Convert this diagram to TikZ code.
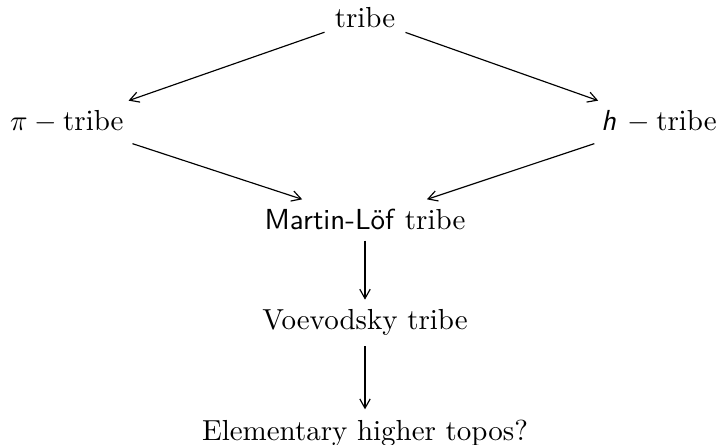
\documentclass[tikz,border=0pt]{standalone}
\usetikzlibrary{arrows.meta}
\begin{document}
\begin{tikzpicture}[x=0.01213cm,y=-0.01213cm,>={Straight Barb[length=3.2pt,width=3.6pt]}]
            \useasboundingbox (0,0) rectangle (720,445);

            \node[anchor=base] (T) at (365, 28) { tribe };
            \node[anchor=base west] (PI) at (0, 131) { $\pi - \mathrm{tribe}$ };
            \node[anchor=base east] (H) at (727, 131) { $\textsf{\textit{h}}\, - \mathrm{tribe}$ };
            \node[anchor=base] (ML) at (365, 230) { \textsf{Martin-Löf} tribe };
            \node[anchor=base] (V) at (365, 330) { Voevodsky tribe };
            \node[anchor=base] (E) at (365, 440) { Elementary higher topos? };

            \draw[->] (T) -- (PI);
            \draw[->] (T) -- (H);
            \draw[->] (PI) -- (ML);
            \draw[->] (H) -- (ML);
            \draw[->] (ML) -- (V);
            \draw[->] (V) -- (E);

        \end{tikzpicture}
\end{document}
